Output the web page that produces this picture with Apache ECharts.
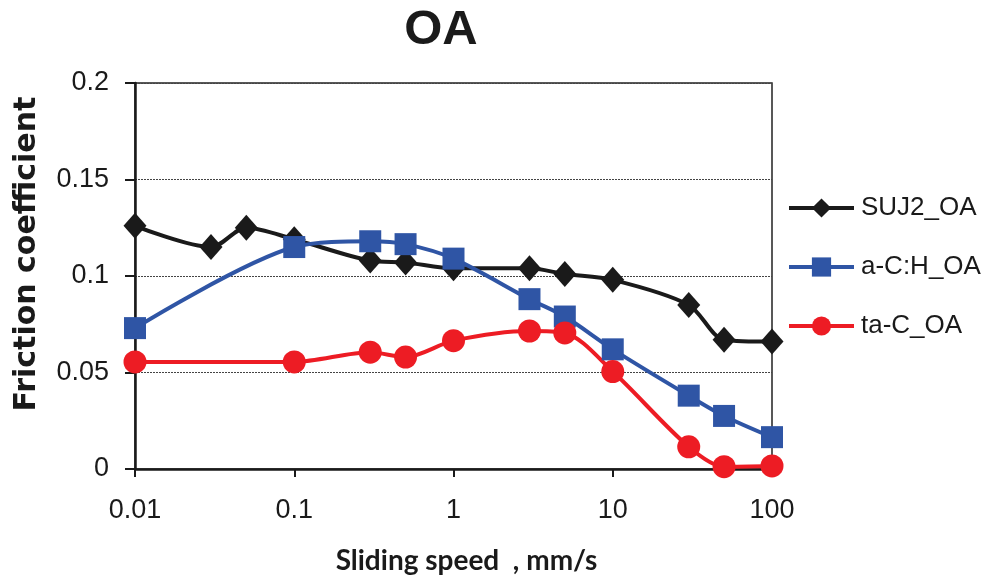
<!DOCTYPE html>
<html>
<head>
<meta charset="utf-8">
<script src="https://cdn.jsdelivr.net/npm/echarts@6/dist/echarts.min.js"></script>
<style>
html,body{margin:0;padding:0;background:#fff;}
#c{width:986px;height:580px;}
</style>
</head>
<body>
<div id="c"></div>
<script>
var titleText = 'OA';
var xAxisTitle = 'Sliding speed  , mm/s';
var yAxisTitle = 'Friction coefficient';
var xTickLabels = ['0.01', '0.1', '1', '10', '100'];

var suj2Speeds = [0.01, 0.03, 0.05, 0.1, 0.3, 0.5, 1, 3, 5, 10, 30, 50, 100];
var suj2Values = [0.126, 0.115, 0.125, 0.119, 0.108, 0.107, 0.104, 0.104, 0.101, 0.098, 0.085, 0.067, 0.066];

var achSpeeds = [0.01, 0.1, 0.3, 0.5, 1, 3, 5, 10, 30, 50, 100];
var achValues = [0.073, 0.115, 0.118, 0.1165, 0.109, 0.088, 0.079, 0.062, 0.038, 0.0275, 0.0165];

var tacSpeeds = [0.01, 0.1, 0.3, 0.5, 1, 3, 5, 10, 30, 50, 100];
var tacValues = [0.0555, 0.0555, 0.0605, 0.058, 0.0665, 0.0715, 0.0705, 0.0505, 0.0115, 0.0012, 0.0016];

var seriesNames = ['SUJ2_OA', 'a-C:H_OA', 'ta-C_OA'];

function pairs(xs, ys) { return xs.map(function (x, i) { return [x, ys[i]]; }); }

var chart = echarts.init(document.getElementById('c'), null, {renderer: 'canvas'});
var labelFont = '"Liberation Sans", Arial, sans-serif';

chart.setOption({
  animation: false,
  backgroundColor: '#ffffff',
  title: {
    text: titleText,
    left: 436, top: 1, textAlign: 'center',
    textStyle: {fontFamily: '"Liberation Sans Narrow", "Liberation Sans", sans-serif', fontWeight: 'bold', fontSize: 49, color: '#1a1a1a'}
  },
  legend: {
    orient: 'vertical',
    left: 787, top: 195, padding: 0,
    itemWidth: 65, itemHeight: 24, itemGap: 33,
    lineStyle: {width: 4},
    textStyle: {fontFamily: labelFont, fontSize: 26, color: '#1a1a1a', padding: [0, 0, 0, 2]},
    data: seriesNames
  },
  grid: {
    left: 135, right: 214, top: 83, bottom: 111,
    show: true, borderColor: '#222', borderWidth: 1.5, backgroundColor: 'transparent'
  },
  xAxis: {
    type: 'log', logBase: 10, min: 0.01, max: 100,
    name: xAxisTitle, nameLocation: 'middle', nameGap: 78,
    nameTextStyle: {fontFamily: 'Lato, "Open Sans", sans-serif', fontWeight: 'bold', fontSize: 28, color: '#1a1a1a', padding: [0, 0, 0, 26]},
    axisLine: {lineStyle: {color: '#1a1a1a', width: 2.5}},
    axisTick: {show: true, inside: false, length: 8, lineStyle: {color: '#1a1a1a', width: 2}},
    minorTick: {show: false},
    splitLine: {show: false},
    axisLabel: {
      margin: 28, fontFamily: labelFont, fontSize: 27, color: '#1a1a1a',
      formatter: function (v) {
        var e = Math.round(Math.log10(v)) + 2;
        return xTickLabels[e] !== undefined ? xTickLabels[e] : '';
      }
    }
  },
  yAxis: {
    type: 'value', min: 0, max: 0.2, interval: 0.05,
    name: yAxisTitle, nameLocation: 'middle', nameGap: 93, nameRotate: 90,
    nameTextStyle: {fontFamily: '"DejaVu Sans", sans-serif', fontWeight: 'bold', fontSize: 30, color: '#1a1a1a', padding: [0, 0, 0, 44]},
    axisLine: {show: true, lineStyle: {color: '#1a1a1a', width: 2.5}},
    axisTick: {show: true, inside: false, length: 10, lineStyle: {color: '#1a1a1a', width: 2}},
    splitLine: {show: true, lineStyle: {color: '#444', width: 1, type: [2, 1]}},
    axisLabel: {margin: 26, fontFamily: labelFont, fontSize: 27, color: '#1a1a1a'}
  },
  series: [
    {
      name: seriesNames[0], type: 'line', smooth: 0.3,
      data: pairs(suj2Speeds, suj2Values),
      symbol: 'diamond', symbolSize: [23, 26],
      lineStyle: {color: '#1a1a1a', width: 4},
      itemStyle: {color: '#1a1a1a'}
    },
    {
      name: seriesNames[1], type: 'line', smooth: 0.3,
      data: pairs(achSpeeds, achValues),
      symbol: 'rect', symbolSize: 22,
      lineStyle: {color: '#2f55a5', width: 4},
      itemStyle: {color: '#2f55a5'}
    },
    {
      name: seriesNames[2], type: 'line', smooth: 0.3,
      data: pairs(tacSpeeds, tacValues),
      symbol: 'circle', symbolSize: 23,
      lineStyle: {color: '#ed1c24', width: 4},
      itemStyle: {color: '#ed1c24'}
    }
  ]
});
</script>
</body>
</html>
